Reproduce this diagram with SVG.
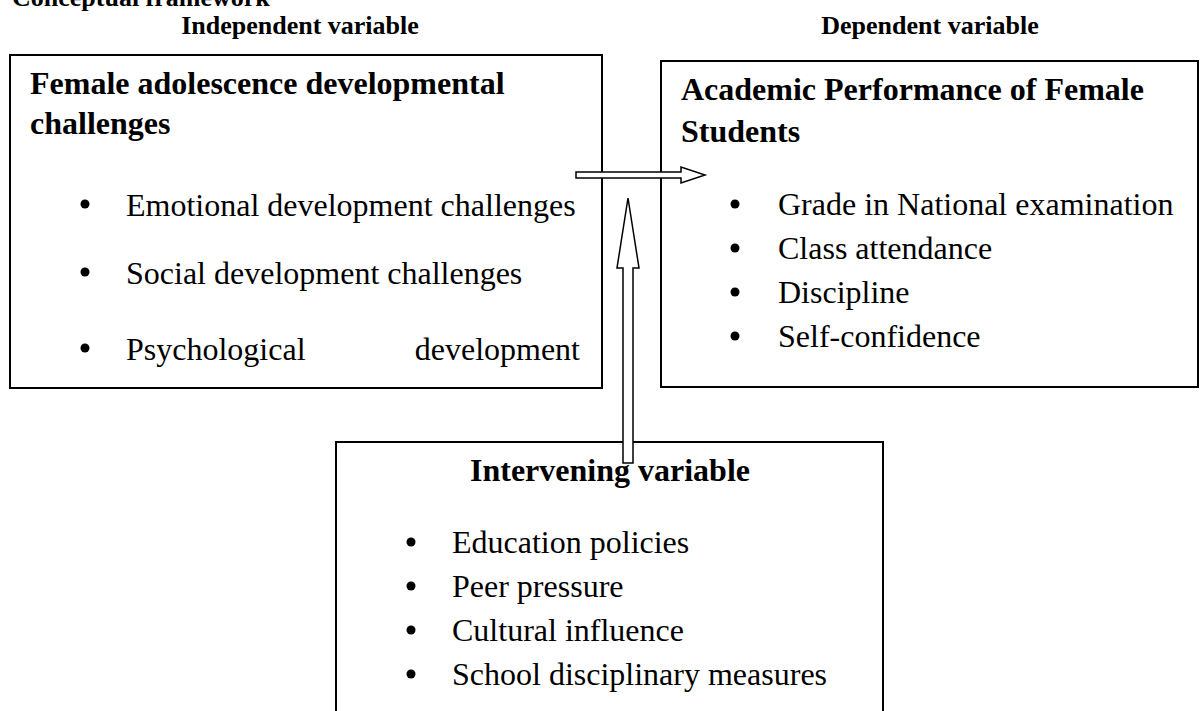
<svg xmlns="http://www.w3.org/2000/svg" width="1200" height="711" viewBox="0 0 1200 711">
  <style>
    .box { fill: #ffffff; stroke: #000000; stroke-width: 2; }
    .arrow { fill: #ffffff; stroke: #000000; stroke-width: 1.5; stroke-linejoin: miter; }
    .t { font-family: "Liberation Serif", "Times New Roman", serif; fill: #000000; }
    .head { font-size: 26px; font-weight: bold; }
    .title { font-size: 32px; font-weight: bold; }
    .item { font-size: 32px; }
    .dot { fill: #000000; }
  </style>
  <rect width="1200" height="711" fill="#ffffff"/>

  <!-- page headings -->
  <g id="headings">
    <text class="t head" x="12" y="6">Conceptual framework</text>
    <text class="t head" x="300" y="34" text-anchor="middle">Independent variable</text>
    <text class="t head" x="930" y="34" text-anchor="middle">Dependent variable</text>
  </g>

  <!-- independent variable -->
  <g id="independent">
    <rect class="box" x="10" y="55" width="592" height="333"/>
    <text class="t title" x="30" y="94">Female adolescence developmental</text>
    <text class="t title" x="30" y="134">challenges</text>
    <circle class="dot" cx="85" cy="204" r="4.5"/>
    <text class="t item" x="126" y="216">Emotional development challenges</text>
    <circle class="dot" cx="85" cy="272" r="4.5"/>
    <text class="t item" x="126" y="284">Social development challenges</text>
    <circle class="dot" cx="85" cy="348" r="4.5"/>
    <text class="t item" x="126" y="360">Psychological</text>
    <text class="t item" x="580" y="360" text-anchor="end">development</text>
  </g>

  <!-- dependent variable -->
  <g id="dependent">
    <rect class="box" x="661" y="61" width="537" height="326"/>
    <text class="t title" x="681" y="100">Academic Performance of Female</text>
    <text class="t title" x="681" y="142">Students</text>
    <circle class="dot" cx="735" cy="204" r="4.5"/>
    <text class="t item" x="778" y="215">Grade in National examination</text>
    <circle class="dot" cx="735" cy="248" r="4.5"/>
    <text class="t item" x="778" y="259">Class attendance</text>
    <circle class="dot" cx="735" cy="292" r="4.5"/>
    <text class="t item" x="778" y="303">Discipline</text>
    <circle class="dot" cx="735" cy="336" r="4.5"/>
    <text class="t item" x="778" y="347">Self-confidence</text>
  </g>

  <!-- intervening variable -->
  <g id="intervening">
    <rect class="box" x="336" y="442" width="547" height="290"/>
    <text class="t title" x="610" y="481" text-anchor="middle">Intervening variable</text>
    <circle class="dot" cx="411" cy="542" r="4.5"/>
    <text class="t item" x="452" y="553">Education policies</text>
    <circle class="dot" cx="411" cy="586" r="4.5"/>
    <text class="t item" x="452" y="597">Peer pressure</text>
    <circle class="dot" cx="411" cy="630" r="4.5"/>
    <text class="t item" x="452" y="641">Cultural influence</text>
    <circle class="dot" cx="411" cy="674" r="4.5"/>
    <text class="t item" x="452" y="685">School disciplinary measures</text>
  </g>

  <!-- block arrows -->
  <g id="connectors">
    <path class="arrow" d="M576,172 H681 V167 L705,175 L681,183 V178 H576 Z"/>
    <path class="arrow" d="M623,463 V268 H617 L628,198 L639,268 H633 V463 Z"/>
  </g>
</svg>
